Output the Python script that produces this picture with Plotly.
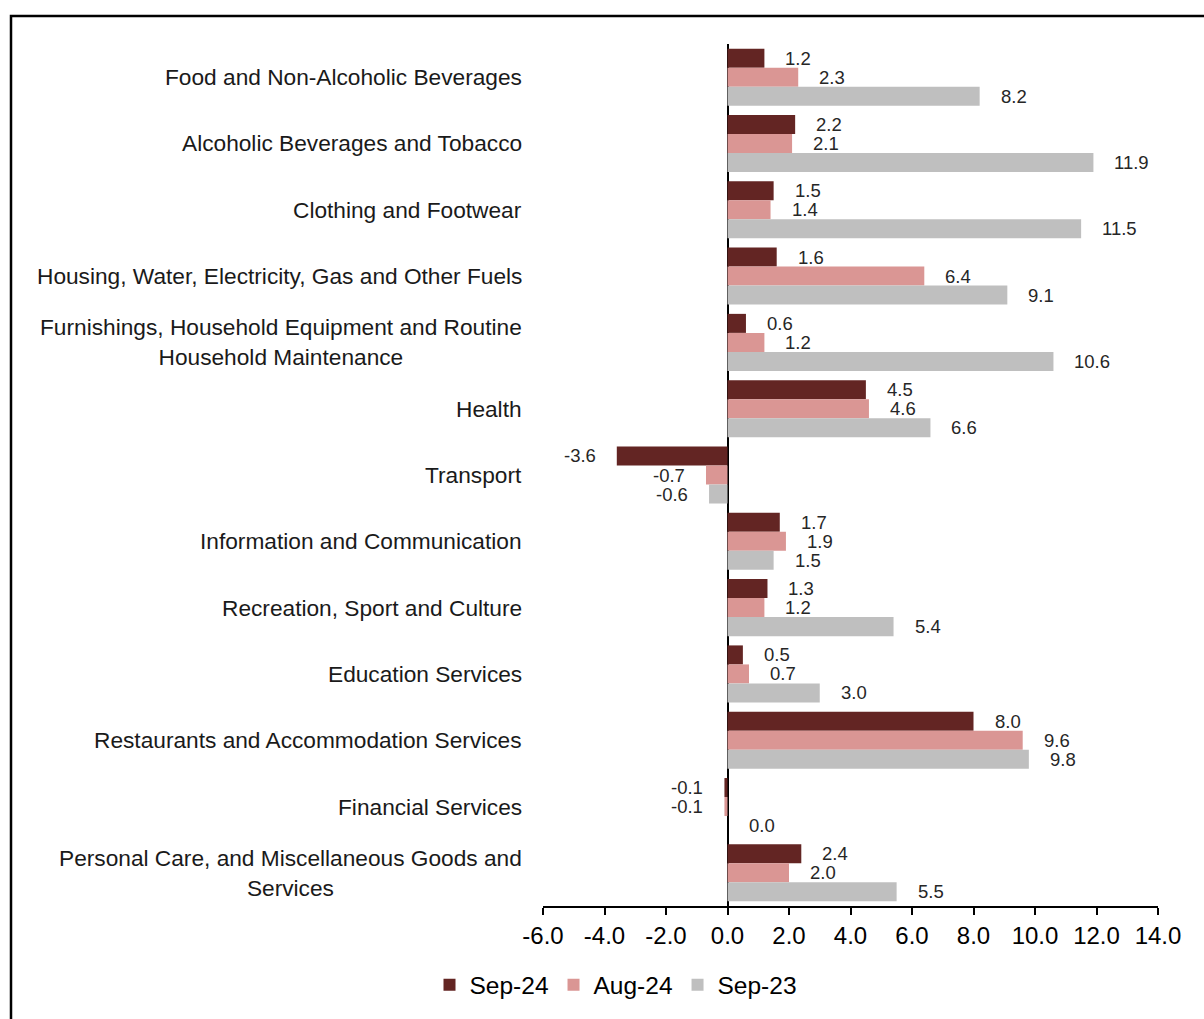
import plotly.graph_objects as go

categories = [
    "Food and Non-Alcoholic Beverages",
    "Alcoholic Beverages and Tobacco",
    "Clothing and Footwear",
    "Housing, Water, Electricity, Gas and Other Fuels",
    "Furnishings, Household Equipment and Routine<br>Household Maintenance",
    "Health",
    "Transport",
    "Information and Communication",
    "Recreation, Sport and Culture",
    "Education Services",
    "Restaurants and Accommodation Services",
    "Financial Services",
    "Personal Care, and Miscellaneous Goods and<br>Services",
]
sep24 = [1.2, 2.2, 1.5, 1.6, 0.6, 4.5, -3.6, 1.7, 1.3, 0.5, 8.0, -0.1, 2.4]
aug24 = [2.3, 2.1, 1.4, 6.4, 1.2, 4.6, -0.7, 1.9, 1.2, 0.7, 9.6, -0.1, 2.0]
sep23 = [8.2, 11.9, 11.5, 9.1, 10.6, 6.6, -0.6, 1.5, 5.4, 3.0, 9.8, 0.0, 5.5]
series_names = ["Sep-24", "Aug-24", "Sep-23"]
series_colors = ["#632523", "#DA9694", "#BFBFBF"]
x_ticks = [-6, -4, -2, 0, 2, 4, 6, 8, 10, 12, 14]
x_ticktext = [f"{t:.1f}" for t in x_ticks]

FONT = "Liberation Sans, Arial, sans-serif"
W, H = 1204, 1019
ML, MR, MT, MB = 543, 46, 44, 111
pw, ph = W - ML - MR, H - MT - MB

bargap = 0.14
bw = (1 - bargap) / 3
ypos = list(range(len(categories)))

fig = go.Figure()
all_series = [sep24, aug24, sep23]
for name, vals, col in zip(series_names, all_series, series_colors):
    fig.add_trace(go.Bar(
        y=ypos, x=vals, name=name, orientation="h",
        marker=dict(color=col, line=dict(width=0)),
    ))

annotations = []
for k, vals in enumerate(all_series):
    off = (k - 1) * bw
    for i, v in enumerate(vals):
        annotations.append(dict(
            x=v, y=i + off, xref="x", yref="y",
            text=f"{v:.1f}", showarrow=False,
            xanchor="left" if v >= 0 else "right",
            xshift=19 if v >= 0 else -19,
            font=dict(family=FONT, size=18.5, color="#262626"),
        ))
for i, c in enumerate(categories):
    annotations.append(dict(
        x=0, y=i, xref="paper", yref="y", text=c, showarrow=False,
        xanchor="right", xshift=-19, align="center",
        font=dict(family=FONT, size=22.7, color="#1a1a1a"),
    ))

def px_x(p):
    return (p - ML) / pw

def px_y(p):
    return (H - MB - p) / ph

fig.update_layout(
    width=W, height=H,
    margin=dict(l=ML, r=MR, t=MT, b=MB),
    paper_bgcolor="white", plot_bgcolor="white",
    barmode="group", bargap=bargap, bargroupgap=0,
    font=dict(family=FONT, color="black"),
    showlegend=True,
    legend=dict(
        orientation="h", x=px_x(616), y=px_y(987),
        xanchor="center", yanchor="middle",
        font=dict(family=FONT, size=24.5, color="black"),
        traceorder="normal", itemwidth=30,
    ),
    annotations=annotations,
    shapes=[dict(
        type="rect", xref="paper", yref="paper",
        x0=px_x(11), x1=px_x(1300), y0=px_y(1100), y1=px_y(16),
        line=dict(color="black", width=2.5), fillcolor="rgba(0,0,0,0)",
        layer="above",
    )],
)
fig.update_xaxes(
    range=[-6, 14], tickvals=x_ticks, ticktext=x_ticktext,
    ticks="outside", ticklen=7, tickwidth=2, tickcolor="black",
    showline=True, linecolor="black", linewidth=2,
    showgrid=False, zeroline=True, zerolinecolor="black", zerolinewidth=2,
    tickfont=dict(family=FONT, size=24, color="black"),
)
fig.update_yaxes(
    range=[len(categories) - 0.5, -0.5], showticklabels=False,
    showgrid=False, zeroline=False, showline=False, ticks="",
)

fig.write_html("out.html")
